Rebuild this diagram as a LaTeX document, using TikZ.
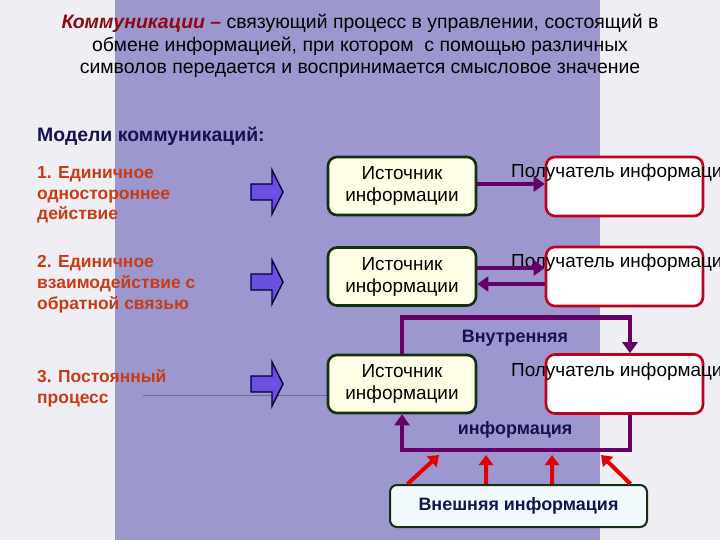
\documentclass[tikz,border=0pt]{standalone}
\usepackage{fontspec}
\setmainfont{Liberation Sans}
\usetikzlibrary{arrows.meta}
\definecolor{pagebg}{HTML}{EFEEF4}
\definecolor{band}{HTML}{9C97CF}
\definecolor{titlered}{HTML}{8B0A14}
\definecolor{navy}{HTML}{141450}
\definecolor{labelred}{HTML}{C83C14}
\definecolor{loopviolet}{HTML}{660066}
\definecolor{srcedge}{HTML}{103010}
\definecolor{srcfill}{HTML}{FFFFE6}
\definecolor{rcvedge}{HTML}{C0001C}
\definecolor{extfill}{HTML}{F2FAFE}
\definecolor{pickfill}{HTML}{6A4FE0}
\tikzset{x=1bp, y=-1bp,
    srcbox/.style={draw=srcedge, fill=srcfill, line width=2.6bp, rounded corners=9bp,
        minimum width=148bp, minimum height=58bp, inner sep=0pt, align=center,
        font=\fontsize{19}{22}\selectfont},
    rcvbox/.style={draw=rcvedge, fill=white, line width=2.6bp, rounded corners=9bp,
        minimum width=157bp, minimum height=59bp},
    rcvlabel/.style={anchor=base west, inner sep=0pt, font=\fontsize{19}{22}\selectfont},
    modellabel/.style={anchor=base west, align=left, inner sep=0pt, text=labelred,
        font=\fontsize{17.5}{21}\selectfont\bfseries},
    navytext/.style={text=navy, font=\fontsize{18}{20}\selectfont\bfseries},
    pickarrow/.style={draw=black!80!blue, fill=pickfill, line width=1.4bp},
    flow/.style={draw=loopviolet, line width=4.5bp, -{Triangle[length=11bp,width=15bp]}},
    loopline/.style={draw=loopviolet, line width=4.5bp},
    outside/.style={draw=red!90!black, line width=4bp, -{Triangle[length=10bp,width=14bp]}},
    }
\begin{document}
\begin{tikzpicture}
\clip (0,0) rectangle (720,540);
\fill[pagebg] (0,0) rectangle (720,540);
\fill[band] (115,0) rectangle (600,540);
% definition (anchored on the baseline of its last line)
\node[anchor=base, align=center, inner sep=0pt, font=\fontsize{19.5}{23}\selectfont] (title) at (360,74)
  {{\color{titlered}\bfseries\itshape Коммуникации –} связующий процесс в управлении, состоящий в\\
   обмене информацией, при котором\ \ с помощью различных\\
   символов передается и воспринимается смысловое значение};
\node[anchor=base west, inner sep=0pt, text=navy, font=\fontsize{19.5}{20}\selectfont\bfseries] (models) at (37,142)
  {Модели коммуникаций:};
% the three models
\node[modellabel] (m1) at (37,220) {1. Единичное\\одностороннее\\действие};
\node[modellabel] (m2) at (37,309) {2. Единичное\\взаимодействие с\\обратной связью};
\node[modellabel] (m3) at (37,403) {3. Постоянный\\процесс};
\draw[black!30!band, line width=0.8bp] (143,395) -- (330,395);
\foreach \y in {192,282,384}
  \draw[pickarrow] (251,\y-8) -- (272,\y-8) -- (272,\y-22) -- (283,\y) -- (272,\y+22)
    -- (272,\y+8) -- (251,\y+8) -- cycle;
% row 1
\node[srcbox] (src1) at (402,186) {Источник\\информации};
\node[rcvbox] (rcv1) at (624.5,186.5) {};
\node[rcvlabel] (rl1) at (511,178) {Получатель информации};
\draw[flow] (src1.east |- 0,184) -- (rcv1.west |- 0,184);
% row 2
\node[srcbox] (src2) at (402,276.5) {Источник\\информации};
\node[rcvbox] (rcv2) at (624.5,276.5) {};
\node[rcvlabel] (rl2) at (511,268) {Получатель информации};
\draw[flow] (src2.east |- 0,268) -- (rcv2.west |- 0,268);
\draw[flow] (rcv2.west |- 0,284) -- (src2.east |- 0,284);
% row 3
\node[srcbox] (src3) at (402,384) {Источник\\информации};
\node[rcvbox] (rcv3) at (624.5,384) {};
\node[rcvlabel] (rl3) at (511,376) {Получатель информации};
\draw[loopline, -{Triangle[length=11bp,width=15bp]}] (src3.north) -- ++(0,-36) -| ([xshift=5.5bp]rcv3.north);
\draw[loopline, -{Triangle[length=11bp,width=15bp]}] ([xshift=5.5bp]rcv3.south) -- ++(0,35) -| (src3.south);
\node[navytext] (inner) at (515,338) {Внутренняя};
\node[navytext] (innerb) at (515,430) {информация};
% outer information
\node[navytext, draw=srcedge, fill=extfill, line width=2bp, rounded corners=7bp, minimum width=257bp,
  minimum height=42bp] (ext) at (518.5,506) {Внешняя информация};
\coordinate (t1) at (439,455);
\coordinate (t2) at (486,455);
\coordinate (t3) at (552,455);
\coordinate (t4) at (601,455);
\draw[outside] ([xshift=-111bp]ext.north) -- (t1);
\draw[outside] ([xshift=-32.5bp]ext.north) -- (t2);
\draw[outside] ([xshift=33.5bp]ext.north) -- (t3);
\draw[outside] ([xshift=112bp]ext.north) -- (t4);
\end{tikzpicture}
\end{document}
